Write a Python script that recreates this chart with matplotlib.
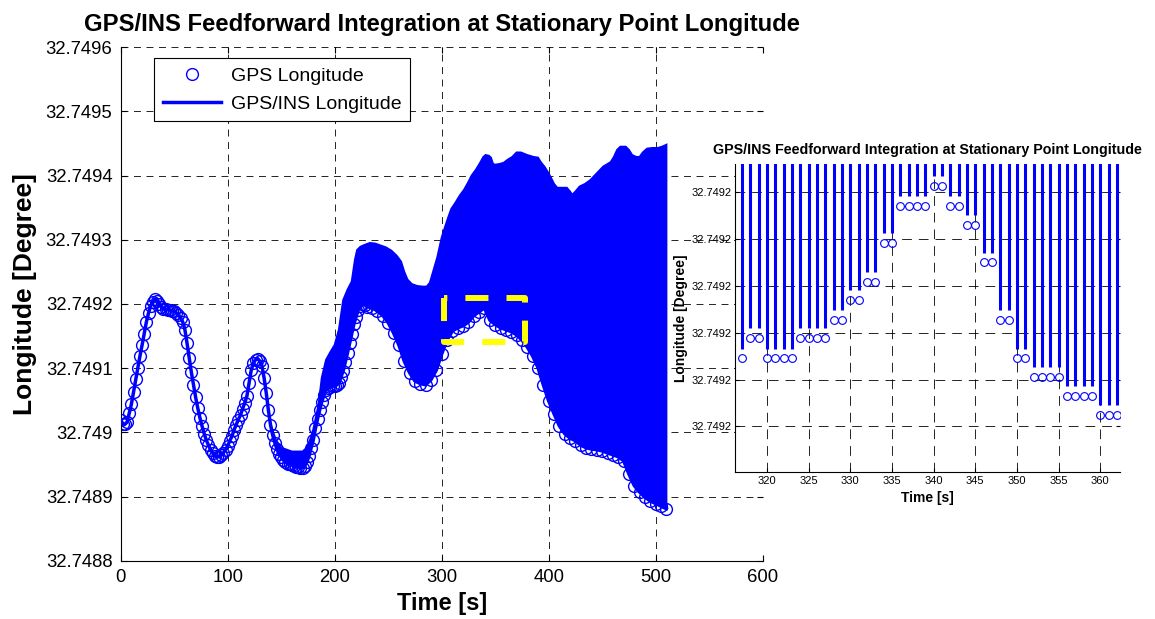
import numpy as np
import matplotlib
matplotlib.use('Agg')
import matplotlib.pyplot as plt
from matplotlib.ticker import FuncFormatter

plt.rcParams['font.family'] = ['Liberation Sans', 'DejaVu Sans']
plt.rcParams['lines.scale_dashes'] = False

# ---- main plot data, longitude given as micro-degrees above 32.749 deg ----
base_lon = 32.749
gps_time = list(range(0, 231, 2)) + list(range(235, 511, 5))
gps_udeg = [
    20, 13, 13, 16, 30, 44, 63, 83, 101, 119,
    136, 154, 172, 186, 197, 203, 208, 205, 200, 196,
    192, 192, 191, 191, 189, 189, 186, 183, 178, 172,
    160, 139, 116, 94, 74, 55, 38, 23, 10, -2,
    -12, -20, -27, -32, -37, -38, -38, -35, -32, -27,
    -21, -13, -6, 4, 12, 20, 27, 37, 46, 57,
    77, 97, 108, 113, 115, 111, 104, 85, 62, 35,
    12, -4, -16, -26, -34, -38, -43, -46, -49, -49,
    -51, -52, -54, -54, -55, -55, -52, -46, -37, -24,
    -12, 6, 21, 35, 48, 58, 66, 69, 71, 72,
    72, 74, 77, 87, 96, 110, 124, 139, 154, 169,
    180, 191, 197, 200, 199, 196,
    # 5 s steps from 235 s
    194, 189, 182, 171, 155, 136, 111, 93, 80, 76,
    74, 82, 97, 122, 144, 158, 163, 166, 172, 182,
    188, 194, 175, 168, 163, 160, 157, 152, 144, 133,
    119, 101, 74, 49, 29, 10, -2, -9, -13, -20,
    -24, -26, -27, -29, -32, -35, -38, -44, -65, -83,
    -93, -101, -107, -111, -115, -119,
]

# upper envelope of the GPS/INS sawtooth (peak just before each GPS reset)
ins_time = [140, 145, 150, 155, 160, 165, 170, 174, 177, 180,
            185, 188, 192, 196, 200, 204, 208, 212, 216, 219,
            221, 224, 228, 233, 238, 243, 248, 253, 258, 262,
            265, 268, 272, 277, 282, 286, 289, 292, 296, 300,
            303, 306, 309, 313, 317, 321, 325, 328, 332, 336,
            339, 341, 344, 346, 348, 350, 354, 358, 362, 366,
            370, 374, 380, 386, 390, 393, 396, 399, 402, 405,
            408, 412, 417, 420, 422, 425, 429, 434, 439, 443,
            447, 451, 455, 458, 461, 464, 467, 472, 475, 478,
            482, 485, 488, 492, 497, 502, 506, 510]
ins_top_udeg = [12, -12, -24, -27, -30, -30, -30, -24, -12, 4,
                43, 85, 113, 125, 136, 160, 206, 222, 235, 269,
                284, 289, 292, 295, 294, 291, 288, 283, 275, 266,
                250, 238, 231, 228, 227, 227, 233, 250, 273, 303,
                319, 334, 348, 358, 369, 378, 390, 400, 409, 420,
                429, 432, 431, 428, 418, 417, 418, 420, 425, 429,
                436, 436, 432, 429, 428, 420, 414, 406, 397, 387,
                381, 381, 381, 375, 370, 375, 383, 387, 393, 400,
                407, 414, 418, 421, 429, 440, 445, 445, 440, 432,
                429, 429, 436, 442, 443, 443, 445, 448]

# zoomed window marked on the main plot
zoom_time = [302, 378]
zoom_lon = [32.74914, 32.74921]

# ---- inset data: 1 Hz GPS samples ----
inset_time = list(range(317, 363))
inset_gps = [
    32.7491745, 32.7491788, 32.7491788, 32.7491745, 32.7491745, 32.7491745,
    32.7491745, 32.7491788, 32.7491788, 32.7491788, 32.7491788, 32.7491828,
    32.7491828, 32.7491869, 32.7491869, 32.7491908, 32.7491908, 32.7491991,
    32.7491991, 32.7492071, 32.7492071, 32.7492071, 32.7492071, 32.7492113,
    32.7492113, 32.7492071, 32.7492071, 32.7492030, 32.7492030, 32.7491950,
    32.7491950, 32.7491828, 32.7491828, 32.7491745, 32.7491745, 32.7491706,
    32.7491706, 32.7491706, 32.7491706, 32.7491665, 32.7491665, 32.7491665,
    32.7491665, 32.7491624, 32.7491624, 32.7491624,
]
# INS value right after each reset sits a little above the GPS fix
reset_gap = 2.1e-6

title = 'GPS/INS Feedforward Integration at Stationary Point Longitude'

gps_t = np.array(gps_time, dtype=float)
gps_lon = base_lon + np.array(gps_udeg) * 1e-6
ins_t = np.array(ins_time, dtype=float)
ins_top = base_lon + np.array(ins_top_udeg) * 1e-6

fig = plt.figure(figsize=(11.55, 6.19), dpi=100)

# ---- main axes ----
ax = fig.add_axes([0.1045, 0.0942, 0.5558, 0.8294])
ax.plot(gps_t, gps_lon, 'o', ms=8.5, mfc='none', mec='blue', mew=1.0,
        label='GPS Longitude', zorder=2)
ax.plot(gps_t, gps_lon, '-', color='blue', lw=2.5,
        label='GPS/INS Longitude', zorder=3)
band = gps_t >= ins_t[0]
ax.fill(np.r_[ins_t, gps_t[band][::-1]], np.r_[ins_top, gps_lon[band][::-1]],
        color='blue', lw=1.5, zorder=3)

bx = [zoom_time[0], zoom_time[0], zoom_time[1], zoom_time[1], zoom_time[0]]
by = [zoom_lon[1], zoom_lon[0], zoom_lon[0], zoom_lon[1], zoom_lon[1]]
ax.plot(bx, by, color='yellow', lw=4.3, ls=(0, (16.6, 13)), zorder=4)

ax.set_xlim(0, 600)
ax.set_ylim(32.7488, 32.7496)
ax.set_xticks(range(0, 601, 100))
ax.set_yticks(32.7488 + np.arange(9) * 1e-4)
ax.yaxis.set_major_formatter(
    FuncFormatter(lambda v, p: f'{v:.4f}'.rstrip('0').rstrip('.')))
ax.grid(True, ls=(0, (5, 4)), color='black', lw=0.6)
ax.set_axisbelow(True)
for side in ['top', 'right']:
    ax.spines[side].set_visible(False)
for side in ['left', 'bottom']:
    ax.spines[side].set_linewidth(0.8)
ax.tick_params(direction='in', top=True, right=True, length=4,
               labelsize=13.3, pad=6)
ax.set_xlabel('Time [s]', fontsize=17, fontweight='bold', labelpad=4)
ax.set_ylabel('Longitude [Degree]', fontsize=19, fontweight='bold', labelpad=6)
ax.yaxis.label.set_y(0.52)
ax.set_title(title, fontsize=17.2, fontweight='bold', pad=12)

leg = ax.legend(loc='upper left', bbox_to_anchor=(0.0519, 0.9786),
                borderaxespad=0, fancybox=False, edgecolor='black',
                framealpha=1, fontsize=14, handlelength=3.0,
                handletextpad=0.5, borderpad=0.45, labelspacing=0.53)
leg.get_frame().set_linewidth(0.8)

# ---- inset axes ----
axi = fig.add_axes([0.6366, 0.2370, 0.3333, 0.4981])
axi.set_facecolor('white')
axi.plot(inset_time, inset_gps, 'o', ms=5.6, mfc='none', mec='blue', mew=0.8,
         zorder=2)
axi.vlines(inset_time, np.array(inset_gps) + reset_gap, ins_top.max(),
           color='blue', lw=2.2, zorder=3)
axi.set_xlim(316.2, 362.4)
axi.set_ylim(32.7491502, 32.749216)
axi.set_xticks(range(320, 361, 5))
axi.set_yticks(32.74916 + np.arange(6) * 1e-5)
axi.yaxis.set_major_formatter(FuncFormatter(lambda v, p: f'{v:.4f}'))
axi.grid(True, ls=(0, (7, 5)), color='black', lw=0.6)
axi.set_axisbelow(True)
for side in ['top', 'right']:
    axi.spines[side].set_visible(False)
for side in ['left', 'bottom']:
    axi.spines[side].set_linewidth(0.8)
axi.tick_params(direction='in', right=True, length=3, labelsize=8, pad=2.5)
axi.set_xlabel('Time [s]', fontsize=10, fontweight='bold', labelpad=4)
axi.set_ylabel('Longitude [Degree]', fontsize=10, fontweight='bold', labelpad=3)
axi.set_title(title, fontsize=10.3, fontweight='bold', pad=7)

fig.savefig('out.png', dpi=100)
